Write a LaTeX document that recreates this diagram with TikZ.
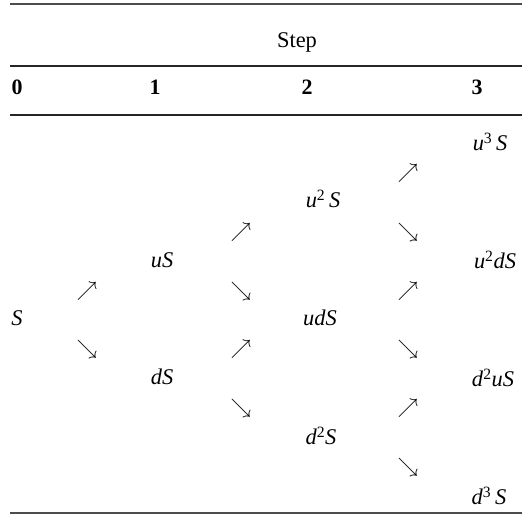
\documentclass[tikz,border=0pt]{standalone}
\usepackage{fontspec}
\setmainfont{Liberation Serif}
\newcommand{\ital}[1]{\textit{#1}}
\newcommand{\pw}[1]{\textsuperscript{\upshape #1}}
\begin{document}
\begin{tikzpicture}[x=1bp,y=-1bp,
  lbl/.style={inner sep=0pt,font=\fontsize{22.5}{26}\selectfont},
  hdr/.style={inner sep=0pt,font=\fontsize{22}{26}\selectfont\bfseries},
  arr/.style={inner sep=0pt,font=\fontsize{20}{24}\selectfont},
  heavyrule/.style={line width=2pt,draw=black!70},
  midrule/.style={line width=1.3pt,draw=black!85}]
\useasboundingbox (0,0) rectangle (522,521);
% rules
\coordinate (t1) at (10,4);   \coordinate (t2) at (522,4);
\coordinate (m1) at (10,66);  \coordinate (m2) at (522,66);
\coordinate (n1) at (10,115); \coordinate (n2) at (522,115);
\coordinate (b1) at (10,513); \coordinate (b2) at (522,513);
\draw[heavyrule] (t1) -- (t2);
\draw[midrule] (m1) -- (m2);
\draw[midrule] (n1) -- (n2);
\draw[heavyrule] (b1) -- (b2);
% header
\node[lbl] (step) at (297,42) {Step};
\node[hdr] (h0) at (17,87) {0};
\node[hdr] (h1) at (155,87) {1};
\node[hdr] (h2) at (307,87) {2};
\node[hdr] (h3) at (477,87) {3};
% values
\node[lbl] (S) at (17,318) {\ital{S}};
\node[lbl] (uS) at (162,260) {\ital{uS}};
\node[lbl] (dS) at (162,377) {\ital{dS}};
\node[lbl] (uuS) at (323,199) {\ital{u}\pw{2}\,\ital{S}};
\node[lbl] (udS) at (320,318) {\ital{udS}};
\node[lbl] (ddS) at (321,436) {\ital{d}\pw{2}\ital{S}};
\node[lbl] (uuuS) at (490,142) {\ital{u}\pw{3}\,\ital{S}};
\node[lbl] (uudS) at (495,260) {\ital{u}\pw{2}\ital{dS}};
\node[lbl] (dduS) at (493,378) {\ital{d}\pw{2}\ital{uS}};
\node[lbl] (dddS) at (489,496) {\ital{d}\pw{3}\,\ital{S}};
% arrows
\node[arr] (a01u) at (87,291) {$\nearrow$};
\node[arr] (a01d) at (87,349) {$\searrow$};
\node[arr] (a12a) at (241,232) {$\nearrow$};
\node[arr] (a12b) at (241,291) {$\searrow$};
\node[arr] (a12c) at (241,349) {$\nearrow$};
\node[arr] (a12d) at (241,408) {$\searrow$};
\node[arr] (a23a) at (408,173) {$\nearrow$};
\node[arr] (a23b) at (408,232) {$\searrow$};
\node[arr] (a23c) at (408,291) {$\nearrow$};
\node[arr] (a23d) at (408,349) {$\searrow$};
\node[arr] (a23e) at (408,408) {$\nearrow$};
\node[arr] (a23f) at (408,467) {$\searrow$};
\end{tikzpicture}
\end{document}
